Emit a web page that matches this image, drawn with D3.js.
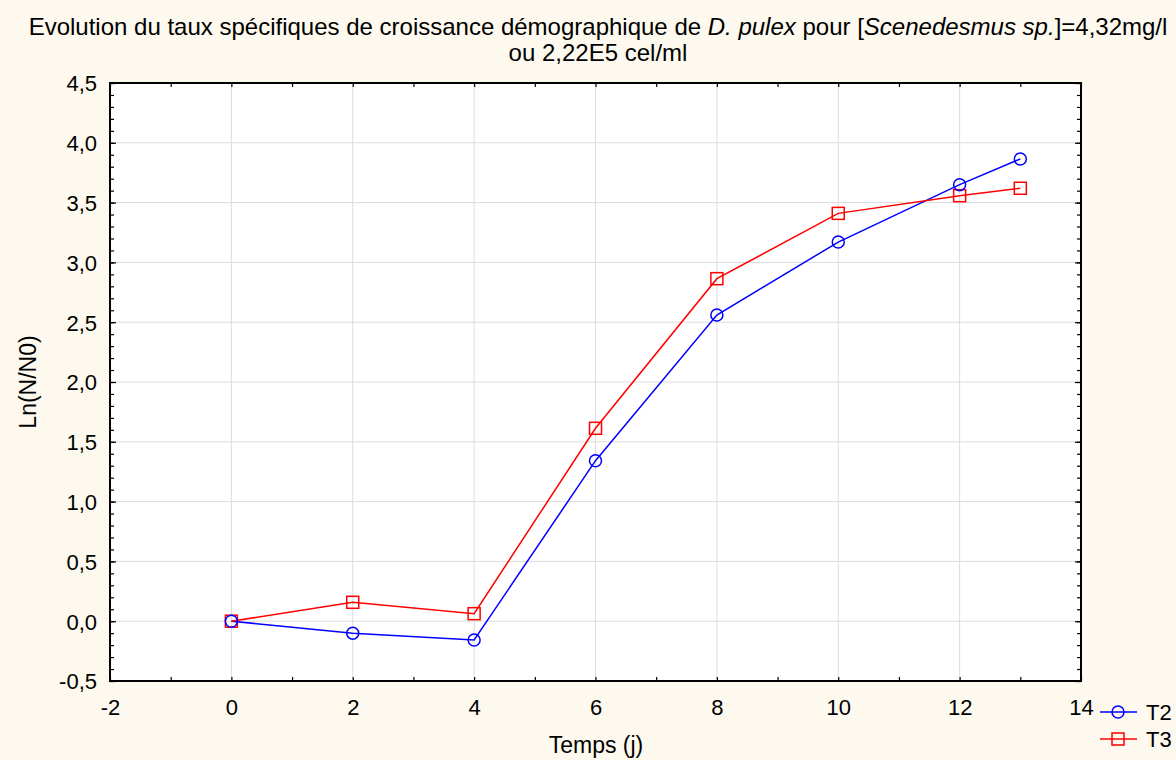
<!DOCTYPE html>
<html><head><meta charset="utf-8">
<script src="https://cdn.jsdelivr.net/npm/d3@7"></script>
<style>
html,body{margin:0;padding:0;background:#fdf9ee;}
svg{display:block;font-family:"Liberation Sans",Arial,sans-serif;}
</style></head>
<body>
<svg id="c" width="1176" height="760"></svg>
<script>
const days = [0, 2, 4, 6, 8, 10, 12, 13];
const t2 = [0, -0.10, -0.157, 1.342, 2.56, 3.17, 3.65, 3.865];
const t3 = [0, 0.158, 0.063, 1.613, 2.864, 3.41, 3.558, 3.62];
const xTicks = [-2, 0, 2, 4, 6, 8, 10, 12, 14];
const yTicks = [-0.5, 0, 0.5, 1, 1.5, 2, 2.5, 3, 3.5, 4, 4.5];
const seriesNames = ["T2", "T3"];

const svg = d3.select("#c");
const FF = "Liberation Sans, Arial, sans-serif";
const L = 110, R = 1081, T = 83, B = 681;
const x = d3.scaleLinear().domain([-2, 14]).range([L, R]);
const y = d3.scaleLinear().domain([-0.5, 4.5]).range([B, T]);
const fmt = v => d3.format(".1f")(v).replace(".", ",").replace("\u2212", "-").replace("-0,0", "0,0");

svg.append("rect").attr("x", L).attr("y", T).attr("width", R - L).attr("height", B - T).attr("fill", "#fff");

// grid
const grid = svg.append("g").attr("stroke", "#dcdcdc").attr("stroke-width", 1);
xTicks.slice(1, -1).forEach(v => grid.append("line").attr("x1", x(v)).attr("x2", x(v)).attr("y1", T).attr("y2", B));
yTicks.slice(1, -1).forEach(v => grid.append("line").attr("x1", L).attr("x2", R).attr("y1", y(v)).attr("y2", y(v)));

// axes with inward ticks
const minorY = d3.range(-0.5, 4.5001, 0.1).map(v => +v.toFixed(2));
const minorX = d3.range(-2, 14.001, 1);
function styleAxis(g){ g.select(".domain").remove(); g.selectAll("line").attr("stroke","#000").attr("stroke-width",1.2); }

svg.append("g").attr("transform", `translate(${L},0)`)
  .call(d3.axisRight(y).tickValues(minorY).tickSize(4).tickFormat("")).call(styleAxis);
svg.append("g").attr("transform", `translate(${L},0)`)
  .call(d3.axisRight(y).tickValues(yTicks).tickSize(6).tickFormat("")).call(styleAxis);
svg.append("g").attr("transform", `translate(${R},0)`)
  .call(d3.axisLeft(y).tickValues(minorY).tickSize(4).tickFormat("")).call(styleAxis);
svg.append("g").attr("transform", `translate(${R},0)`)
  .call(d3.axisLeft(y).tickValues(yTicks).tickSize(6).tickFormat("")).call(styleAxis);
svg.append("g").attr("transform", `translate(0,${B})`)
  .call(d3.axisTop(x).tickValues(minorX).tickSize(4).tickFormat("")).call(styleAxis);
svg.append("g").attr("transform", `translate(0,${T})`)
  .call(d3.axisBottom(x).tickValues(minorX).tickSize(4).tickFormat("")).call(styleAxis);

// tick labels
const yl = svg.append("g").attr("transform", `translate(${L},0)`)
  .call(d3.axisLeft(y).tickValues(yTicks).tickSize(0).tickPadding(13).tickFormat(fmt));
yl.attr("font-size", 22).attr("font-family", FF);
yl.select(".domain").remove();
yl.selectAll("text").attr("fill", "#000").attr("dy", "0.36em");
const xl = svg.append("g").attr("transform", `translate(0,${B})`)
  .call(d3.axisBottom(x).tickValues(xTicks).tickSize(0).tickPadding(0).tickFormat(d => String(d)));
xl.attr("font-size", 22).attr("font-family", FF);
xl.select(".domain").remove();
xl.selectAll("text").attr("fill", "#000").attr("dy", null).attr("y", 34);

// frame
svg.append("rect").attr("x", L).attr("y", T).attr("width", R - L).attr("height", B - T)
  .attr("fill", "none").attr("stroke", "#000").attr("stroke-width", 2);

// lines
const line = d3.line().x((d, i) => x(days[i])).y(d => y(d));
svg.append("path").datum(t2).attr("d", line).attr("fill", "none").attr("stroke", "#0000ff").attr("stroke-width", 1.5);
svg.append("path").datum(t3).attr("d", line).attr("fill", "none").attr("stroke", "#ff0000").attr("stroke-width", 1.5);
svg.selectAll(".sq").data(t3).enter().append("rect")
  .attr("x", (d, i) => x(days[i]) - 6).attr("y", d => y(d) - 6).attr("width", 12).attr("height", 12)
  .attr("fill", "none").attr("stroke", "#ff0000").attr("stroke-width", 1.5);
svg.selectAll(".ci").data(t2).enter().append("circle")
  .attr("cx", (d, i) => x(days[i])).attr("cy", d => y(d)).attr("r", 6)
  .attr("fill", "none").attr("stroke", "#0000ff").attr("stroke-width", 1.5);

// titles
const title = svg.append("text").attr("x", 598).attr("y", 35).attr("text-anchor", "middle").attr("font-size", 24);
title.append("tspan").text("Evolution du taux spécifiques de croissance démographique de ");
title.append("tspan").attr("font-style", "italic").text("D. pulex");
title.append("tspan").text(" pour [");
title.append("tspan").attr("font-style", "italic").text("Scenedesmus sp.");
title.append("tspan").text("]=4,32mg/l");
svg.append("text").attr("x", 598).attr("y", 61).attr("text-anchor", "middle").attr("font-size", 24).text("ou 2,22E5 cel/ml");
svg.append("text").attr("x", 596).attr("y", 753).attr("text-anchor", "middle").attr("font-size", 23).text("Temps (j)");
svg.append("text").attr("transform", "translate(36,382) rotate(-90)").attr("text-anchor", "middle").attr("font-size", 23).text("Ln(N/N0)");

// legend
const colors = ["#0000ff", "#ff0000"];
seriesNames.forEach((n, i) => {
  const ly = 712 + i * 27;
  const g = svg.append("g");
  g.append("line").attr("x1", 1100).attr("x2", 1137).attr("y1", ly).attr("y2", ly).attr("stroke", colors[i]).attr("stroke-width", 1.5);
  if (i === 0) g.append("circle").attr("cx", 1118).attr("cy", ly).attr("r", 6).attr("fill", "none").attr("stroke", colors[i]).attr("stroke-width", 1.5);
  else g.append("rect").attr("x", 1112).attr("y", ly - 6).attr("width", 12).attr("height", 12).attr("fill", "none").attr("stroke", colors[i]).attr("stroke-width", 1.5);
  g.append("text").attr("x", 1146).attr("y", ly + 8).attr("font-size", 22).text(n);
});
</script>
</body></html>
